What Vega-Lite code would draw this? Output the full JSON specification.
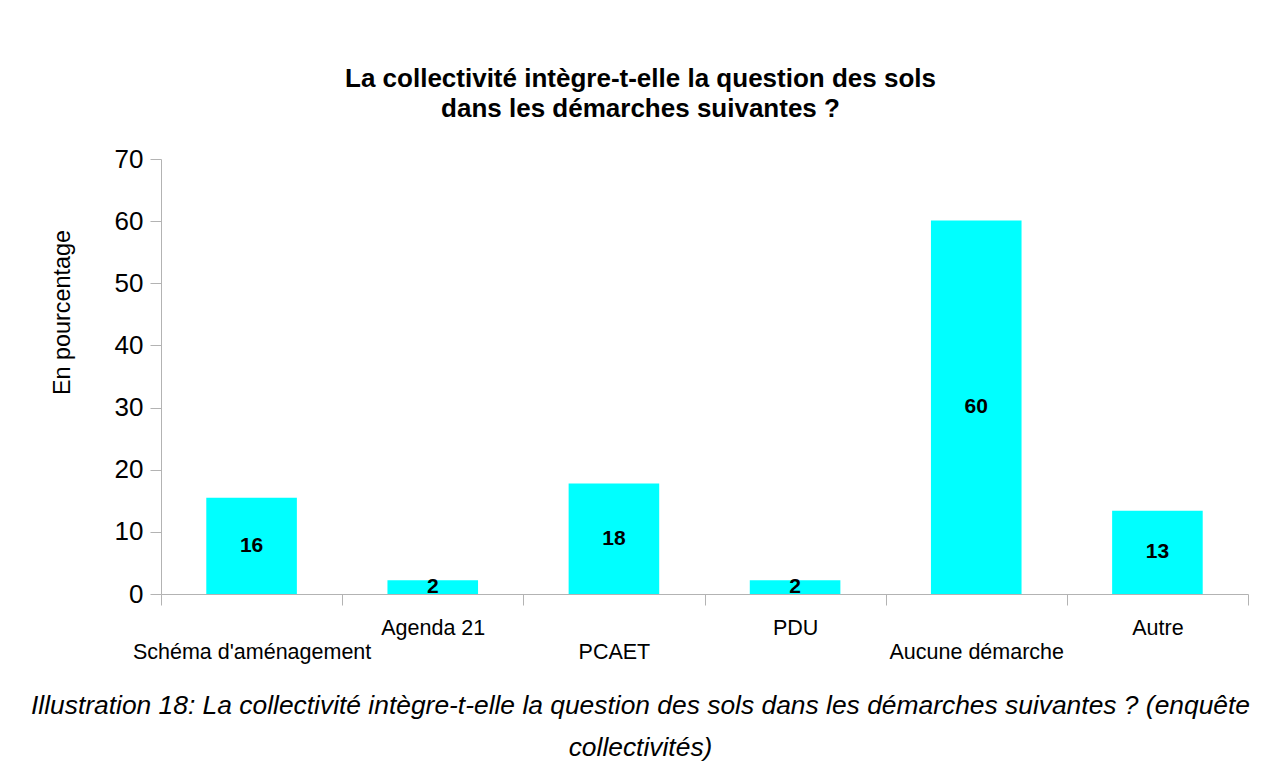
{
  "$schema": "https://vega.github.io/schema/vega-lite/v6.json",
  "width": 1087,
  "height": 435,
  "autosize": {"type": "none"},
  "padding": {"left": 161, "top": 159, "right": 16, "bottom": 168},
  "background": "white",
  "title": {
    "text": ["La collectivité intègre-t-elle la question des sols", "dans les démarches suivantes ?"],
    "font": "Liberation Sans",
    "fontSize": 26,
    "fontWeight": "bold",
    "color": "black",
    "lineHeight": 30,
    "anchor": "middle",
    "baseline": "bottom",
    "dx": -64,
    "offset": -2
  },
  "data": {
    "values": [
      {"categorie": "Schéma d'aménagement", "valeur": 15.5},
      {"categorie": "Agenda 21", "valeur": 2.2},
      {"categorie": "PCAET", "valeur": 17.8},
      {"categorie": "PDU", "valeur": 2.2},
      {"categorie": "Aucune démarche", "valeur": 60.1},
      {"categorie": "Autre", "valeur": 13.4}
    ]
  },
  "encoding": {
    "x": {
      "field": "categorie",
      "type": "nominal",
      "sort": null,
      "scale": {"paddingInner": 0, "paddingOuter": 0},
      "axis": {
        "labelAngle": 0,
        "labelFont": "Liberation Sans",
        "labelFontSize": 21.5,
        "labelColor": "black",
        "labelLimit": 0,
        "labelOverlap": false,
        "labelBound": false,
        "labelBaseline": "top",
        "labelPadding": 12,
        "labelLineHeight": 24.5,
        "labelExpr": "indexof([\"Schéma d'aménagement\", \"PCAET\", \"Aucune démarche\"], datum.value) >= 0 ? ['', datum.value] : datum.value",
        "tickBand": "extent",
        "tickSize": 11,
        "tickColor": "#b3b3b3",
        "domainColor": "#b3b3b3",
        "title": ["Illustration 18: La collectivité intègre-t-elle la question des sols dans les démarches suivantes ? (enquête", "collectivités)"],
        "titleFont": "Liberation Sans",
        "titleFontSize": 26.4,
        "titleFontStyle": "italic",
        "titleFontWeight": "normal",
        "titleColor": "black",
        "titleLineHeight": 42,
        "titleLimit": 3000,
        "titleAnchor": null,
        "titleAlign": "center",
        "titleBaseline": "alphabetic",
        "titleX": 479,
        "titleY": 119
      }
    }
  },
  "layer": [
    {
      "mark": {"type": "bar", "color": "#00ffff", "width": {"band": 0.5}},
      "encoding": {
        "y": {
          "field": "valeur",
          "type": "quantitative",
          "scale": {"domain": [0, 70], "nice": false},
          "axis": {
            "values": [0, 10, 20, 30, 40, 50, 60, 70],
            "grid": false,
            "labelFont": "Liberation Sans",
            "labelFontSize": 26,
            "labelColor": "black",
            "labelPadding": 7,
            "tickSize": 11,
            "tickColor": "#b3b3b3",
            "domainColor": "#b3b3b3",
            "title": "En pourcentage",
            "titleFont": "Liberation Sans",
            "titleFontSize": 23.4,
            "titleFontWeight": "normal",
            "titleColor": "black",
            "titleAngle": -90,
            "titleAlign": "center",
            "titleBaseline": "middle",
            "titleAnchor": null,
            "titleX": -99,
            "titleY": 153
          }
        }
      }
    },
    {
      "mark": {
        "type": "text",
        "font": "Liberation Sans",
        "fontSize": 21,
        "fontWeight": "bold",
        "color": "black",
        "baseline": "middle",
        "dy": {"expr": "(scale('y', 0) - scale('y', datum.valeur)) / 2"}
      },
      "encoding": {
        "y": {"field": "valeur", "type": "quantitative"},
        "text": {"field": "valeur", "type": "quantitative", "format": ".0f"}
      }
    }
  ],
  "config": {"view": {"stroke": null}}
}
